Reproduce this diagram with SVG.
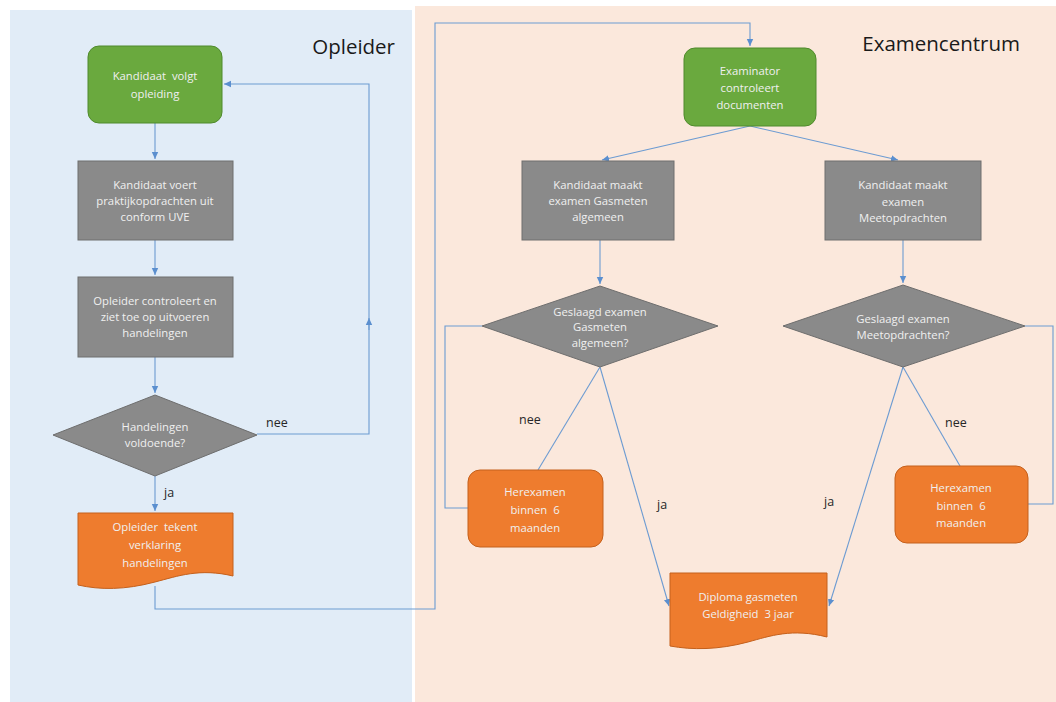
<svg xmlns="http://www.w3.org/2000/svg" width="1056" height="702" viewBox="0 0 1056 702">
<style>
.nt{font-family:"Open Sans","Liberation Sans",Arial,sans-serif;font-size:11.3px;fill:#f0f0f0;text-anchor:middle;white-space:pre}
.lb{font-family:"Open Sans","Liberation Sans",Arial,sans-serif;font-size:12.5px;fill:#262626}
.ttl{font-family:"Open Sans","Liberation Sans",sans-serif;font-size:20.5px;fill:#1a1a1a}
.green{fill:#6aa93e;stroke:#4f8a2c;stroke-width:1}
.gray{fill:#8a8a8a;stroke:#6e6e6e;stroke-width:1}
.orange{fill:#ee7c2e;stroke:#c4601c;stroke-width:1}
.c{fill:none;stroke:#6c9bd2;stroke-width:1.1}
</style>
<defs>
<marker id="ah" markerWidth="8" markerHeight="8" refX="7" refY="4" orient="auto" markerUnits="userSpaceOnUse">
<path d="M0,0.8 L7,4 L0,7.2 Z" fill="#5b8fcf"/>
</marker>
</defs>
<rect x="0" y="0" width="1056" height="702" fill="#ffffff"/>
<rect x="10" y="10" width="402" height="692" fill="#e1ecf7"/>
<rect x="415" y="6" width="641" height="696" fill="#fbe8dc"/>
<text class="ttl" x="395" y="54" text-anchor="end">Opleider</text>
<text class="ttl" x="1020" y="51" text-anchor="end">Examencentrum</text>

<g id="connectors">
<path class="c" d="M155,123 V159" marker-end="url(#ah)"/>
<path class="c" d="M155,240 V275" marker-end="url(#ah)"/>
<path class="c" d="M155,357 V393" marker-end="url(#ah)"/>
<path class="c" d="M155,476 V511" marker-end="url(#ah)"/>
<path class="c" d="M257,434 H369 V320"/>
<path class="c" d="M369,330 V318" marker-end="url(#ah)"/>
<path class="c" d="M369,320 V84 H224" marker-end="url(#ah)"/>
<path class="c" d="M155,586 V609 H435 V23 H750 V46" marker-end="url(#ah)"/>
<path class="c" d="M750,126 L602,160" marker-end="url(#ah)"/>
<path class="c" d="M750,126 L898,160" marker-end="url(#ah)"/>
<path class="c" d="M600,240 V284" marker-end="url(#ah)"/>
<path class="c" d="M903,240 V283" marker-end="url(#ah)"/>
<path class="c" d="M482,326 H445 V508 H468"/>
<path class="c" d="M600,367 L538,470"/>
<path class="c" d="M600,367 L669,606" marker-end="url(#ah)"/>
<path class="c" d="M1025,326 H1053 V504 H1028"/>
<path class="c" d="M903,367 L960,466"/>
<path class="c" d="M903,367 L829,606" marker-end="url(#ah)"/>
<text class="lb" x="266" y="427">nee</text>
<text class="lb" x="164" y="497">ja</text>
<text class="lb" x="519" y="424">nee</text>
<text class="lb" x="657" y="509">ja</text>
<text class="lb" x="945" y="427">nee</text>
<text class="lb" x="824" y="506">ja</text>
</g>

<g id="n1">
<rect class="green" x="88" y="46" width="134" height="77" rx="11"/>
<text class="nt" x="155" y="80" xml:space="preserve">Kandidaat  volgt</text>
<text class="nt" x="155" y="98">opleiding</text>
</g>
<g id="n2">
<rect class="gray" x="78" y="161" width="155" height="79"/>
<text class="nt" x="155" y="189">Kandidaat voert</text>
<text class="nt" x="155" y="205">praktijkopdrachten uit</text>
<text class="nt" x="155" y="221">conform UVE</text>
</g>
<g id="n3">
<rect class="gray" x="78" y="277" width="155" height="80"/>
<text class="nt" x="155" y="305">Opleider controleert en</text>
<text class="nt" x="155" y="321">ziet toe op uitvoeren</text>
<text class="nt" x="155" y="337">handelingen</text>
</g>
<g id="n4">
<path class="gray" d="M155,395 L257,435 L155,476 L53,435 Z"/>
<text class="nt" x="155" y="431">Handelingen</text>
<text class="nt" x="155" y="447">voldoende?</text>
</g>
<g id="n5">
<path class="orange" d="M78,513 H233 V576 C200,568 178,576 155,582 C125,590 100,590 78,585 Z"/>
<text class="nt" x="155" y="531" xml:space="preserve">Opleider  tekent</text>
<text class="nt" x="155" y="549">verklaring</text>
<text class="nt" x="155" y="567">handelingen</text>
</g>
<g id="n6">
<rect class="green" x="684" y="48" width="132" height="78" rx="11"/>
<text class="nt" x="750" y="75">Examinator</text>
<text class="nt" x="750" y="92">controleert</text>
<text class="nt" x="750" y="109">documenten</text>
</g>
<g id="n7">
<rect class="gray" x="522" y="161" width="152" height="79"/>
<text class="nt" x="598" y="189">Kandidaat maakt</text>
<text class="nt" x="598" y="205">examen Gasmeten</text>
<text class="nt" x="598" y="221">algemeen</text>
</g>
<g id="n8">
<rect class="gray" x="825" y="161" width="156" height="79"/>
<text class="nt" x="903" y="189">Kandidaat maakt</text>
<text class="nt" x="903" y="206">examen</text>
<text class="nt" x="903" y="222">Meetopdrachten</text>
</g>
<g id="n9">
<path class="gray" d="M600,286 L718,326 L600,367 L482,326 Z"/>
<text class="nt" x="600" y="316">Geslaagd examen</text>
<text class="nt" x="600" y="331">Gasmeten</text>
<text class="nt" x="600" y="347">algemeen?</text>
</g>
<g id="n10">
<path class="gray" d="M903,285 L1025,326 L903,367 L783,326 Z"/>
<text class="nt" x="903" y="323">Geslaagd examen</text>
<text class="nt" x="903" y="339">Meetopdrachten?</text>
</g>
<g id="n11">
<rect class="orange" x="468" y="470" width="135" height="77" rx="12"/>
<text class="nt" x="535" y="496">Herexamen</text>
<text class="nt" x="535" y="514" xml:space="preserve">binnen  6</text>
<text class="nt" x="535" y="532">maanden</text>
</g>
<g id="n12">
<rect class="orange" x="895" y="466" width="133" height="77" rx="12"/>
<text class="nt" x="961" y="492">Herexamen</text>
<text class="nt" x="961" y="510" xml:space="preserve">binnen  6</text>
<text class="nt" x="961" y="527">maanden</text>
</g>
<g id="n13">
<path class="orange" d="M670,573 H827 V637 C792,628 770,636 748,642 C718,650 692,650 670,646 Z"/>
<text class="nt" x="748" y="601">Diploma gasmeten</text>
<text class="nt" x="748" y="618" xml:space="preserve">Geldigheid  3 jaar</text>
</g>
</svg>
